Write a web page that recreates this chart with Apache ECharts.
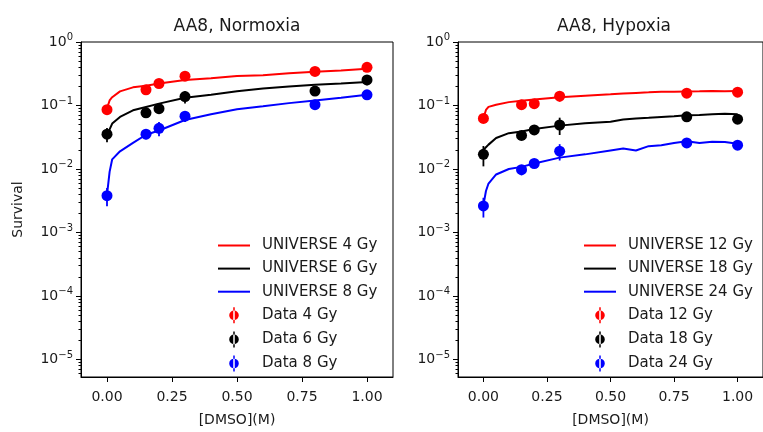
<!DOCTYPE html>
<html>
<head>
<meta charset="utf-8">
<script src="https://cdn.jsdelivr.net/npm/echarts@6/dist/echarts.min.js"></script>
<style>
  html, body { margin: 0; padding: 0; background: #fff; }
  #chart { width: 763px; height: 432px; }
</style>
</head>
<body>
<div id="chart"></div>
<script>
// measured DMSO concentrations (M)
const dmso = [0, 0.15, 0.2, 0.3, 0.8, 1.0];

// normoxia data points and error bars
const normData4 = [0.086, 0.177, 0.222, 0.29, 0.344, 0.40];
const normErr4 = [0.005, 0.01, 0.01, 0.02, 0.02, 0.02];
const normData6 = [0.0354, 0.0766, 0.089, 0.138, 0.169, 0.253];
const normErr6 = [0.009, 0.008, 0.01, 0.03, 0.01, 0.045];
const normData8 = [0.0038, 0.0354, 0.0438, 0.068, 0.103, 0.147];
const normErr8 = [0.0012, 0.006, 0.011, 0.013, 0.005, 0.008];

// hypoxia data points and error bars
const hypoData12 = [0.0625, 0.103, 0.107, 0.14, 0.156, 0.162];
const hypoErr12 = [0.004, 0.006, 0.006, 0.025, 0.008, 0.008];
const hypoData18 = [0.017, 0.0338, 0.0413, 0.0493, 0.0664, 0.061];
const hypoErr18 = [0.006, 0.003, 0.004, 0.015, 0.004, 0.004];
const hypoData24 = [0.00262, 0.00975, 0.0122, 0.0191, 0.0257, 0.0237];
const hypoErr24 = [0.0009, 0.0018, 0.001, 0.0055, 0.002, 0.002];

// UNIVERSE model curves
const normModelX = [0, 0.01, 0.02, 0.05, 0.1, 0.15, 0.2, 0.3, 0.4, 0.5, 0.6, 0.7, 0.8, 0.9, 1.0];
const normModel4 = [0.09, 0.12, 0.135, 0.167, 0.193, 0.205, 0.222, 0.253, 0.269, 0.292, 0.299, 0.321, 0.34, 0.357, 0.378];
const normModel6 = [0.03, 0.042, 0.052, 0.066, 0.084, 0.095, 0.107, 0.132, 0.148, 0.167, 0.186, 0.2, 0.212, 0.222, 0.235];
const normModel8 = [0.0039, 0.009, 0.0142, 0.019, 0.0257, 0.0346, 0.0404, 0.059, 0.073, 0.087, 0.097, 0.109, 0.12, 0.132, 0.148];

const hypoModelX = [0, 0.01, 0.02, 0.05, 0.1, 0.15, 0.2, 0.3, 0.4, 0.5, 0.55, 0.6, 0.65, 0.7, 0.75, 0.8, 0.85, 0.9, 0.95, 1.0];
const hypoModel12 = [0.063, 0.085, 0.095, 0.103, 0.113, 0.119, 0.124, 0.135, 0.143, 0.15, 0.154, 0.158, 0.161, 0.165, 0.165, 0.166, 0.167, 0.169, 0.168, 0.169];
const hypoModel18 = [0.02, 0.022, 0.0242, 0.0308, 0.0367, 0.039, 0.0428, 0.0482, 0.0524, 0.0556, 0.06, 0.0625, 0.064, 0.066, 0.068, 0.0703, 0.071, 0.073, 0.074, 0.073];
const hypoModel24 = [0.0027, 0.0045, 0.0059, 0.0082, 0.01, 0.0108, 0.0122, 0.0151, 0.017, 0.0196, 0.021, 0.0196, 0.0229, 0.0236, 0.0257, 0.0273, 0.0257, 0.0268, 0.0266, 0.025];

// axis ticks
const xTicks = [0, 0.25, 0.5, 0.75, 1.0];
const yTicks = [1e-5, 1e-4, 1e-3, 1e-2, 1e-1, 1];
const yMin = 5.3e-6;
const yMax = 1;

const yMinorTicks = [];
for (let e = -6; e <= -1; e++) {
  for (let k = 2; k <= 9; k++) {
    const v = Number((k * Math.pow(10, e)).toPrecision(3));
    if (v >= yMin && v <= yMax) yMinorTicks.push(v);
  }
}

const RED = '#ff0000';
const BLACK = '#000000';
const BLUE = '#0000ff';
const textColor = '#1a1a1a';
const font = 'DejaVu Sans';

const errIcon = 'path://M3.8,0h1.4v15h-1.4z M0,7.5a4.5,4.5 0 1,0 9,0a4.5,4.5 0 1,0 -9,0z';
const lineIcon = 'path://M0,0h32v2h-32z';

function pairs(xs, ys) {
  return xs.map((x, i) => [x, ys[i]]);
}
function triples(xs, ys, es) {
  return xs.map((x, i) => [x, ys[i], es[i]]);
}

function renderErrorPoint(params, api) {
  const x = api.value(0);
  const y = api.value(1);
  const e = api.value(2);
  const p = api.coord([x, y]);
  const a = api.coord([x, Math.max(y - e, 1e-9)]);
  const b = api.coord([x, y + e]);
  const color = api.visual('color');
  return {
    type: 'group',
    children: [
      { type: 'line', shape: { x1: a[0], y1: a[1], x2: b[0], y2: b[1] }, style: { stroke: color, lineWidth: 1.8 } },
      { type: 'circle', shape: { cx: p[0], cy: p[1], r: 5.5 }, style: { fill: color } }
    ]
  };
}

function supLabel(v) {
  const lg = Math.log10(v);
  const e = Math.round(lg);
  if (Math.abs(lg - e) > 1e-6) return '';
  return '{base|10}{sup|' + (e < 0 ? '\u2212' + (-e) : e) + '}';
}

function xAxisFor(gridIndex) {
  return {
    type: 'value',
    gridIndex,
    min: -0.1,
    max: 1.1,
    name: '[DMSO](M)',
    nameLocation: 'middle',
    nameGap: 36,
    nameTextStyle: { fontSize: 14, color: textColor, fontFamily: font },
    axisLine: { show: true, onZero: false, lineStyle: { color: BLACK, width: 1 } },
    axisTick: { show: true, customValues: xTicks, length: 5, lineStyle: { color: BLACK } },
    axisLabel: {
      customValues: xTicks,
      formatter: (v) => v.toFixed(2),
      fontSize: 14,
      color: textColor,
      fontFamily: font,
      margin: 13
    },
    splitLine: { show: false }
  };
}

function yAxisFor(gridIndex, name) {
  return {
    type: 'log',
    logBase: 10,
    gridIndex,
    position: 'left',
    min: yMin,
    max: yMax,
    name,
    nameLocation: 'middle',
    nameGap: 56,
    nameTextStyle: { fontSize: 14, color: textColor, fontFamily: font },
    axisLine: { show: true, onZero: false, lineStyle: { color: BLACK, width: 1 } },
    axisTick: { show: true, customValues: yTicks, length: 5, lineStyle: { color: BLACK } },
    axisLabel: {
      customValues: yTicks,
      formatter: supLabel,
      margin: 8,
      color: textColor,
      fontFamily: font,
      rich: {
        base: { fontSize: 14, color: textColor, fontFamily: font },
        sup: { fontSize: 10, color: textColor, fontFamily: font, padding: [0, 0, 9, 0] }
      }
    },
    splitLine: { show: false }
  };
}

function yMinorAxisFor(gridIndex) {
  return {
    type: 'log',
    logBase: 10,
    gridIndex,
    position: 'left',
    min: yMin,
    max: yMax,
    axisLine: { show: false, onZero: false },
    axisTick: { show: true, customValues: yMinorTicks, length: 2.5, lineStyle: { color: BLACK } },
    axisLabel: { show: false },
    splitLine: { show: false }
  };
}

function lineSeries(name, xi, yi, xs, ys, color) {
  return {
    name,
    type: 'line',
    xAxisIndex: xi,
    yAxisIndex: yi,
    data: pairs(xs, ys),
    symbol: 'none',
    color,
    itemStyle: { color },
    lineStyle: { color, width: 2 },
    z: 2
  };
}

function dataSeries(name, xi, yi, ys, es, color) {
  return {
    name,
    type: 'custom',
    xAxisIndex: xi,
    yAxisIndex: yi,
    data: triples(dmso, ys, es),
    encode: { x: 0, y: 1 },
    renderItem: renderErrorPoint,
    itemStyle: { color },
    color,
    z: 3
  };
}

function legendFor(left, names) {
  return {
    left,
    top: 238,
    orient: 'vertical',
    padding: 0,
    itemWidth: 32,
    itemHeight: 16,
    itemGap: 8.1,
    textStyle: { fontSize: 15, color: textColor, fontFamily: font, padding: [0, 0, 0, 7] },
    data: [
      { name: names[0], icon: lineIcon },
      { name: names[1], icon: lineIcon },
      { name: names[2], icon: lineIcon },
      { name: names[3], icon: errIcon },
      { name: names[4], icon: errIcon },
      { name: names[5], icon: errIcon }
    ]
  };
}

const chart = echarts.init(document.getElementById('chart'), null, { renderer: 'canvas' });

chart.setOption({
  animation: false,
  textStyle: { fontFamily: font },
  title: [
    { text: 'AA8, Normoxia', left: 237, top: 18, textAlign: 'center', padding: 0,
      textStyle: { fontSize: 17, fontWeight: 'normal', color: textColor, fontFamily: font } },
    { text: 'AA8, Hypoxia', left: 614, top: 18, textAlign: 'center', padding: 0,
      textStyle: { fontSize: 17, fontWeight: 'normal', color: textColor, fontFamily: font } }
  ],
  grid: [
    { left: 81, top: 42, width: 312, height: 342, show: true, borderColor: BLACK, borderWidth: 1, backgroundColor: 'transparent' },
    { left: 458, top: 42, width: 313, height: 342, show: true, borderColor: BLACK, borderWidth: 1, backgroundColor: 'transparent' }
  ],
  xAxis: [xAxisFor(0), xAxisFor(1)],
  yAxis: [yAxisFor(0, 'Survival'), yMinorAxisFor(0), yAxisFor(1, ''), yMinorAxisFor(1)],
  legend: [
    legendFor(218, ['UNIVERSE 4 Gy', 'UNIVERSE 6 Gy', 'UNIVERSE 8 Gy', 'Data 4 Gy', 'Data 6 Gy', 'Data 8 Gy']),
    legendFor(584, ['UNIVERSE 12 Gy', 'UNIVERSE 18 Gy', 'UNIVERSE 24 Gy', 'Data 12 Gy', 'Data 18 Gy', 'Data 24 Gy'])
  ],
  series: [
    lineSeries('UNIVERSE 4 Gy', 0, 0, normModelX, normModel4, RED),
    lineSeries('UNIVERSE 6 Gy', 0, 0, normModelX, normModel6, BLACK),
    lineSeries('UNIVERSE 8 Gy', 0, 0, normModelX, normModel8, BLUE),
    dataSeries('Data 4 Gy', 0, 0, normData4, normErr4, RED),
    dataSeries('Data 6 Gy', 0, 0, normData6, normErr6, BLACK),
    dataSeries('Data 8 Gy', 0, 0, normData8, normErr8, BLUE),
    lineSeries('UNIVERSE 12 Gy', 1, 2, hypoModelX, hypoModel12, RED),
    lineSeries('UNIVERSE 18 Gy', 1, 2, hypoModelX, hypoModel18, BLACK),
    lineSeries('UNIVERSE 24 Gy', 1, 2, hypoModelX, hypoModel24, BLUE),
    dataSeries('Data 12 Gy', 1, 2, hypoData12, hypoErr12, RED),
    dataSeries('Data 18 Gy', 1, 2, hypoData18, hypoErr18, BLACK),
    dataSeries('Data 24 Gy', 1, 2, hypoData24, hypoErr24, BLUE)
  ]
});

window.addEventListener('resize', () => chart.resize());
</script>
</body>
</html>
